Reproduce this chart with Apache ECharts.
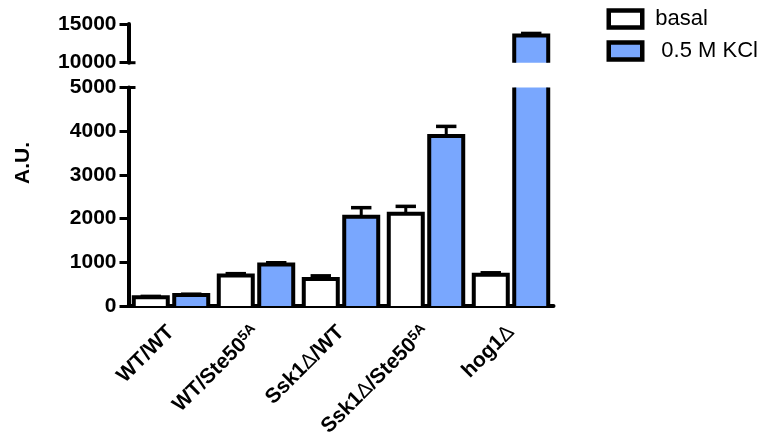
<!DOCTYPE html>
<html>
<head>
<meta charset="utf-8">
<script src="https://cdn.jsdelivr.net/npm/echarts@6/dist/echarts.min.js"></script>
<style>
  html, body { margin: 0; padding: 0; background: #fff; }
  #chart { width: 763px; height: 442px; }
</style>
</head>
<body>
<div id="chart"></div>
<script>
// Strains (Δ = deletion, ^ marks a superscript allele tag)
const categories = ['WT/WT', 'WT/Ste50^5A', 'Ssk1Δ/WT', 'Ssk1Δ/Ste50^5A', 'hog1Δ'];

// Mean reporter signal (A.U.) and upper end of the error bar
const basal    = [200, 700, 615, 2110, 715];
const basalErr = [220, 740, 690, 2280, 760];
const kcl      = [250, 950, 2040, 3890, 13500];
const kclErr   = [270, 990, 2250, 4110, 13780];

const seriesNames = ['basal', '0.5 M KCl'];

// Broken value axis: lower and upper segments [min, max, step]
const lowerAxis = [0, 5000, 1000];
const upperAxis = [10000, 15000, 5000];

const FONT = 'Arial, "Liberation Sans", Helvetica, sans-serif';
const BLUE = '#79a7fe';
const WHITE = '#ffffff';

// Category label: bold text, thin Δ glyph, small raised allele tag
function formatCategory(name) {
  const parts = name.split('^');
  let out = '';
  parts[0].split('Δ').forEach((p, i, arr) => {
    if (p) out += '{b|' + p + '}';
    if (i < arr.length - 1) out += '{d|Δ}';
  });
  if (parts[1]) out += '{s|' + parts[1] + '}';
  return out;
}

// Bar with outline drawn on three sides; parts running past the grid are cut
// without an edge so the bar reads as continuing across the axis break.
function renderBar(side, fill) {
  return function (params, api) {
    const cs = params.coordSys;
    const i = api.value(0), v = api.value(1), e = api.value(2);
    const band = api.size([1, 0])[0];
    const w = band * 0.40;
    const p = api.coord([i, v]);
    const cx = p[0] + side * band * 0.238;
    const top = p[1];
    const base = api.coord([i, 0])[1];
    const areaTop = cs.y, areaBot = cs.y + cs.height;
    if (top >= areaBot) return null;
    const yTop = Math.max(top, areaTop);
    const yBot = Math.min(base, areaBot);
    const left = cx - w / 2, right = cx + w / 2;
    const capW = band * 0.24;
    const children = [];
    const ey = api.coord([i, e])[1];
    if (top > areaTop && ey >= areaTop - 2) {
      children.push({ type: 'line', shape: { x1: cx, y1: top, x2: cx, y2: ey },
        style: { stroke: '#000', lineWidth: 3 } });
      children.push({ type: 'line', shape: { x1: cx - capW / 2, y1: ey, x2: cx + capW / 2, y2: ey },
        style: { stroke: '#000', lineWidth: 3.5 } });
    }
    children.push({ type: 'rect', shape: { x: left, y: yTop, width: w, height: yBot - yTop },
      style: { fill: fill } });
    if (top > areaTop) {
      children.push({ type: 'polyline',
        shape: { points: [[left, yBot], [left, yTop], [right, yTop], [right, yBot]] },
        style: { stroke: '#000', lineWidth: 4, fill: null, lineJoin: 'miter' } });
    } else {
      children.push({ type: 'line', shape: { x1: left, y1: yTop, x2: left, y2: yBot },
        style: { stroke: '#000', lineWidth: 4 } });
      children.push({ type: 'line', shape: { x1: right, y1: yTop, x2: right, y2: yBot },
        style: { stroke: '#000', lineWidth: 4 } });
    }
    return { type: 'group', children: children };
  };
}

function barSeries(name, values, errs, side, fill, gridIdx) {
  return {
    type: 'custom',
    name: name,
    xAxisIndex: gridIdx,
    yAxisIndex: gridIdx,
    data: values.map((v, i) => [i, v, errs[i]]),
    encode: { x: 0, y: 1 },
    itemStyle: { color: fill, borderColor: '#000', borderWidth: 4 },
    renderItem: renderBar(side, fill),
    silent: true
  };
}

function valueAxis(gridIdx, range) {
  return {
    type: 'value',
    gridIndex: gridIdx,
    min: range[0],
    max: range[1],
    interval: range[2],
    splitLine: { show: false },
    axisLine: { show: true, lineStyle: { color: '#000', width: 4 } },
    axisTick: { show: true, length: 9, lineStyle: { color: '#000', width: 3 } },
    axisLabel: {
      color: '#000', fontSize: 21, fontWeight: 'bold', fontFamily: FONT, margin: 12,
      formatter: (v) => String(v)
    }
  };
}

const GRID_LEFT = 128.5;
const GRID_W = 425;

const chart = echarts.init(document.getElementById('chart'), null, { renderer: 'canvas' });

chart.setOption({
  animation: false,
  backgroundColor: '#fff',
  grid: [
    { left: GRID_LEFT, top: 87.5, width: GRID_W, height: 218.5 },
    { left: GRID_LEFT, top: 24, width: GRID_W, height: 38.7 }
  ],
  xAxis: [
    {
      type: 'category', gridIndex: 0, data: categories,
      axisLine: { lineStyle: { color: '#000', width: 4 } },
      axisTick: { alignWithLabel: true, length: 8, lineStyle: { color: '#000', width: 3 } },
      axisLabel: {
        rotate: 45, margin: 23, interval: 0, color: '#000',
        formatter: formatCategory,
        rich: {
          b: { fontSize: 21, lineHeight: 22, fontWeight: 'bold', fontFamily: FONT, color: '#000' },
          d: { fontSize: 21, lineHeight: 22, fontWeight: 'normal', fontFamily: FONT, color: '#000' },
          s: { fontSize: 14, lineHeight: 8, fontWeight: 'bold', fontFamily: FONT, color: '#000', verticalAlign: 'top' }
        }
      }
    },
    { type: 'category', gridIndex: 1, data: categories, show: false }
  ],
  yAxis: [valueAxis(0, lowerAxis), valueAxis(1, upperAxis)],
  legend: {
    orient: 'vertical', left: 606.5, top: 8, padding: 0,
    itemWidth: 33.5, itemHeight: 17, itemGap: 10, icon: 'rect',
    formatter: (name) => (name === seriesNames[1] ? ' ' + name : name),
    textStyle: { fontSize: 22, lineHeight: 18, color: '#000', fontFamily: FONT, padding: [0, 0, 0, 8] },
    data: [
      { name: seriesNames[0], itemStyle: { color: WHITE, borderColor: '#000', borderWidth: 4.5 } },
      { name: seriesNames[1], itemStyle: { color: BLUE, borderColor: '#000', borderWidth: 4.5 } }
    ]
  },
  series: [
    barSeries(seriesNames[0], basal, basalErr, -1, WHITE, 0),
    barSeries(seriesNames[1], kcl, kclErr, 1, BLUE, 0),
    barSeries(seriesNames[0], basal, basalErr, -1, WHITE, 1),
    barSeries(seriesNames[1], kcl, kclErr, 1, BLUE, 1)
  ]
});

// Axis-break marks: the ticks at the cut ends poke out to the right of the axis
const yBreakLow = chart.convertToPixel({ yAxisIndex: 0 }, lowerAxis[1]);
const yBreakHigh = chart.convertToPixel({ yAxisIndex: 1 }, upperAxis[0]);
chart.setOption({
  graphic: [
    { type: 'line', shape: { x1: GRID_LEFT, y1: yBreakLow, x2: GRID_LEFT + 7, y2: yBreakLow },
      style: { stroke: '#000', lineWidth: 3 } },
    { type: 'line', shape: { x1: GRID_LEFT, y1: yBreakHigh, x2: GRID_LEFT + 7, y2: yBreakHigh },
      style: { stroke: '#000', lineWidth: 3 } },
    { type: 'text', x: 23, y: 163, rotation: Math.PI / 2,
      style: { text: 'A.U.', fill: '#000', font: 'bold 21px ' + FONT, align: 'center', verticalAlign: 'middle' } }
  ]
});
</script>
</body>
</html>
